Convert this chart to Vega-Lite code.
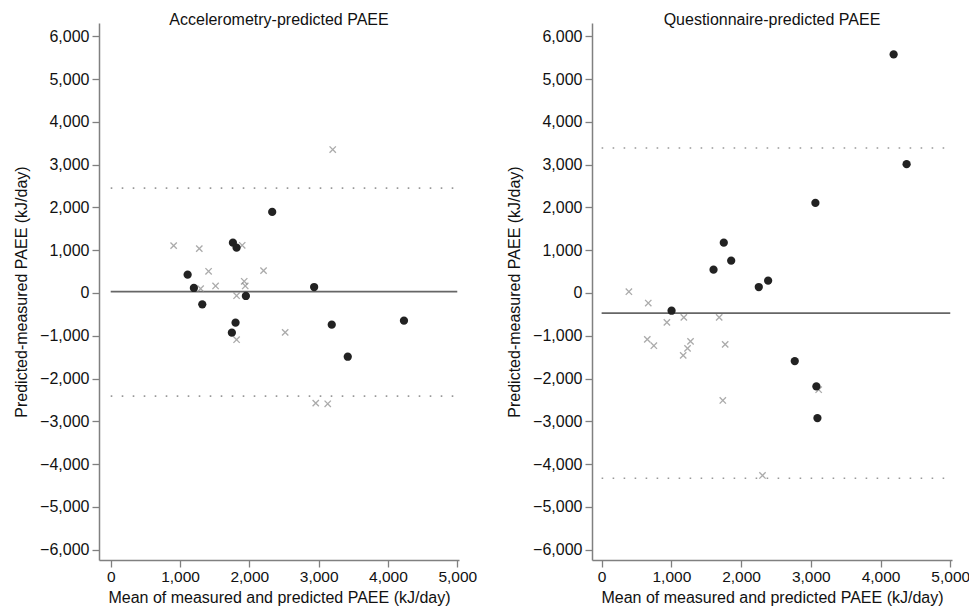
{
  "$schema": "https://vega.github.io/schema/vega-lite/v6.json",
  "padding": {"left": 13, "top": 12, "right": 0, "bottom": 0},
  "background": "white",
  "config": {
    "view": {"stroke": null},
    "font": "Liberation Sans",
    "title": {"fontSize": 16, "fontWeight": "normal", "color": "#111", "offset": -5, "baseline": "alphabetic"},
    "axis": {
      "domainColor": "#808080",
      "domainWidth": 1.5,
      "tickColor": "#808080",
      "tickWidth": 1.3,
      "labelColor": "#111",
      "titleColor": "#111",
      "labelFontSize": 16,
      "titleFontSize": 16,
      "titleFontWeight": "normal",
      "grid": false,
      "tickSize": 7,
      "labelPadding": 3
    },
    "axisY": {"titlePadding": 10},
    "axisX": {"titlePadding": 5, "labelPadding": 2, "labelFontSize": 15.5}
  },
  "datasets": {
    "pts": [
      {"panel": "A", "type": "circle", "x": 2330, "y": 1895},
      {"panel": "A", "type": "circle", "x": 1763, "y": 1177},
      {"panel": "A", "type": "circle", "x": 1816, "y": 1060},
      {"panel": "A", "type": "circle", "x": 1110, "y": 429},
      {"panel": "A", "type": "circle", "x": 1200, "y": 117},
      {"panel": "A", "type": "circle", "x": 2935, "y": 140},
      {"panel": "A", "type": "circle", "x": 1950, "y": -70},
      {"panel": "A", "type": "circle", "x": 1321, "y": -265},
      {"panel": "A", "type": "circle", "x": 1801, "y": -694},
      {"panel": "A", "type": "circle", "x": 1748, "y": -928},
      {"panel": "A", "type": "circle", "x": 3189, "y": -741},
      {"panel": "A", "type": "circle", "x": 4231, "y": -647},
      {"panel": "A", "type": "circle", "x": 3420, "y": -1489},
      {"panel": "A", "type": "cross", "x": 3203, "y": 3352},
      {"panel": "A", "type": "cross", "x": 908, "y": 1107},
      {"panel": "A", "type": "cross", "x": 1278, "y": 1037},
      {"panel": "A", "type": "cross", "x": 1897, "y": 1115},
      {"panel": "A", "type": "cross", "x": 1412, "y": 507},
      {"panel": "A", "type": "cross", "x": 2205, "y": 522},
      {"panel": "A", "type": "cross", "x": 1297, "y": 101},
      {"panel": "A", "type": "cross", "x": 1513, "y": 164},
      {"panel": "A", "type": "cross", "x": 1926, "y": 273},
      {"panel": "A", "type": "cross", "x": 1941, "y": 164},
      {"panel": "A", "type": "cross", "x": 1816, "y": -63},
      {"panel": "A", "type": "cross", "x": 1816, "y": -1092},
      {"panel": "A", "type": "cross", "x": 2517, "y": -920},
      {"panel": "A", "type": "cross", "x": 2958, "y": -2573},
      {"panel": "A", "type": "cross", "x": 3131, "y": -2589},
      {"panel": "Q", "type": "circle", "x": 4188, "y": 5575},
      {"panel": "Q", "type": "circle", "x": 4374, "y": 3010},
      {"panel": "Q", "type": "circle", "x": 3066, "y": 2105},
      {"panel": "Q", "type": "circle", "x": 1752, "y": 1177},
      {"panel": "Q", "type": "circle", "x": 1858, "y": 756},
      {"panel": "Q", "type": "circle", "x": 1605, "y": 545},
      {"panel": "Q", "type": "circle", "x": 2254, "y": 140},
      {"panel": "Q", "type": "circle", "x": 2388, "y": 288},
      {"panel": "Q", "type": "circle", "x": 1003, "y": -414},
      {"panel": "Q", "type": "circle", "x": 2770, "y": -1591},
      {"panel": "Q", "type": "circle", "x": 3080, "y": -2183},
      {"panel": "Q", "type": "circle", "x": 3095, "y": -2924},
      {"panel": "Q", "type": "cross", "x": 391, "y": 30},
      {"panel": "Q", "type": "cross", "x": 669, "y": -234},
      {"panel": "Q", "type": "cross", "x": 1179, "y": -569},
      {"panel": "Q", "type": "cross", "x": 1686, "y": -569},
      {"panel": "Q", "type": "cross", "x": 936, "y": -686},
      {"panel": "Q", "type": "cross", "x": 655, "y": -1084},
      {"panel": "Q", "type": "cross", "x": 749, "y": -1232},
      {"panel": "Q", "type": "cross", "x": 1275, "y": -1131},
      {"panel": "Q", "type": "cross", "x": 1232, "y": -1295},
      {"panel": "Q", "type": "cross", "x": 1170, "y": -1458},
      {"panel": "Q", "type": "cross", "x": 1772, "y": -1201},
      {"panel": "Q", "type": "cross", "x": 3113, "y": -2261},
      {"panel": "Q", "type": "cross", "x": 1738, "y": -2511},
      {"panel": "Q", "type": "cross", "x": 2307, "y": -4265}
    ],
    "lines": [
      {"panel": "A", "kind": "mean", "y": 30},
      {"panel": "A", "kind": "loa", "y": 2450},
      {"panel": "A", "kind": "loa", "y": -2410},
      {"panel": "Q", "kind": "mean", "y": -470},
      {"panel": "Q", "kind": "loa", "y": 3390},
      {"panel": "Q", "kind": "loa", "y": -4330}
    ]
  },
  "hconcat": [
    {
      "title": "Accelerometry-predicted PAEE",
      "width": 360,
      "height": 537,
      "layer": [
        {
          "data": {"name": "lines"},
          "transform": [{"filter": "datum.panel === 'A' && datum.kind === 'loa'"}],
          "mark": {"type": "rule", "color": "#999", "strokeWidth": 1.6, "strokeDash": [1.6, 9.4]},
          "encoding": {
            "y": {"field": "y", "type": "quantitative"},
            "x": {"datum": 0, "type": "quantitative"},
            "x2": {"datum": 5000}
          }
        },
        {
          "data": {"name": "lines"},
          "transform": [{"filter": "datum.panel === 'A' && datum.kind === 'mean'"}],
          "mark": {"type": "rule", "color": "#666", "strokeWidth": 1.7},
          "encoding": {
            "y": {"field": "y", "type": "quantitative"},
            "x": {"datum": 0, "type": "quantitative"},
            "x2": {"datum": 5000}
          }
        },
        {
          "data": {"name": "pts"},
          "transform": [{"filter": "datum.panel === 'A' && datum.type === 'cross'"}],
          "mark": {"type": "point", "shape": "M-1,-1L1,1M1,-1L-1,1", "size": 40, "color": "#888", "strokeWidth": 1.3, "filled": false},
          "encoding": {
            "x": {"field": "x", "type": "quantitative"},
            "y": {"field": "y", "type": "quantitative"}
          }
        },
        {
          "data": {"name": "pts"},
          "transform": [{"filter": "datum.panel === 'A' && datum.type === 'circle'"}],
          "mark": {"type": "circle", "size": 68, "color": "#222", "opacity": 1},
          "encoding": {
            "x": {"field": "x", "type": "quantitative",
              "scale": {"domain": [-169, 5025], "nice": false, "zero": false},
              "axis": {"values": [0, 1000, 2000, 3000, 4000, 5000], "format": ",d", "title": "Mean of measured and predicted PAEE (kJ/day)"}},
            "y": {"field": "y", "type": "quantitative",
              "scale": {"domain": [-6240, 6310], "nice": false, "zero": false},
              "axis": {"values": [-6000, -5000, -4000, -3000, -2000, -1000, 0, 1000, 2000, 3000, 4000, 5000, 6000], "format": ",d", "title": "Predicted-measured PAEE (kJ/day)"}}
          }
        }
      ]
    },
    {
      "title": "Questionnaire-predicted PAEE",
      "width": 360,
      "height": 537,
      "layer": [
        {
          "data": {"name": "lines"},
          "transform": [{"filter": "datum.panel === 'Q' && datum.kind === 'loa'"}],
          "mark": {"type": "rule", "color": "#999", "strokeWidth": 1.6, "strokeDash": [1.6, 9.4]},
          "encoding": {
            "y": {"field": "y", "type": "quantitative"},
            "x": {"datum": 0, "type": "quantitative"},
            "x2": {"datum": 5000}
          }
        },
        {
          "data": {"name": "lines"},
          "transform": [{"filter": "datum.panel === 'Q' && datum.kind === 'mean'"}],
          "mark": {"type": "rule", "color": "#666", "strokeWidth": 1.7},
          "encoding": {
            "y": {"field": "y", "type": "quantitative"},
            "x": {"datum": 0, "type": "quantitative"},
            "x2": {"datum": 5000}
          }
        },
        {
          "data": {"name": "pts"},
          "transform": [{"filter": "datum.panel === 'Q' && datum.type === 'cross'"}],
          "mark": {"type": "point", "shape": "M-1,-1L1,1M1,-1L-1,1", "size": 40, "color": "#888", "strokeWidth": 1.3, "filled": false},
          "encoding": {
            "x": {"field": "x", "type": "quantitative"},
            "y": {"field": "y", "type": "quantitative"}
          }
        },
        {
          "data": {"name": "pts"},
          "transform": [{"filter": "datum.panel === 'Q' && datum.type === 'circle'"}],
          "mark": {"type": "circle", "size": 68, "color": "#222", "opacity": 1},
          "encoding": {
            "x": {"field": "x", "type": "quantitative",
              "scale": {"domain": [-138, 5025], "nice": false, "zero": false},
              "axis": {"values": [0, 1000, 2000, 3000, 4000, 5000], "format": ",d", "title": "Mean of measured and predicted PAEE (kJ/day)"}},
            "y": {"field": "y", "type": "quantitative",
              "scale": {"domain": [-6240, 6310], "nice": false, "zero": false},
              "axis": {"values": [-6000, -5000, -4000, -3000, -2000, -1000, 0, 1000, 2000, 3000, 4000, 5000, 6000], "format": ",d", "title": "Predicted-measured PAEE (kJ/day)"}}
          }
        }
      ]
    }
  ],
  "spacing": 29
}
